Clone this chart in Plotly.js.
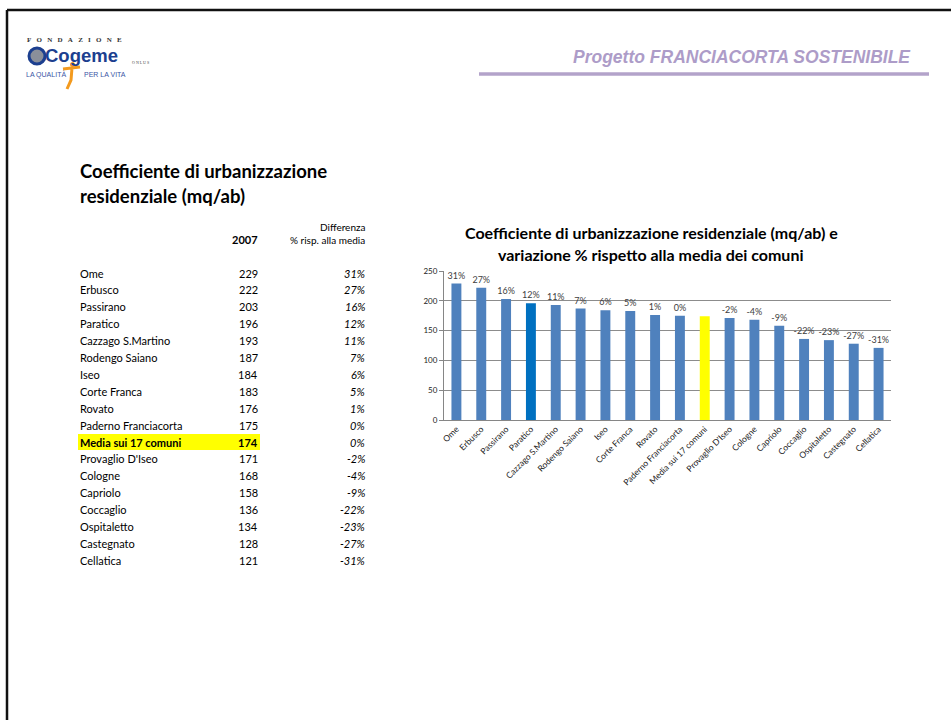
<!DOCTYPE html>
<html>
<head>
<meta charset="utf-8">
<script src="https://cdn.plot.ly/plotly-3.0.1.min.js"></script>
<style>html,body{margin:0;padding:0;background:#fff;}#chart{width:951px;height:720px;}</style>
</head>
<body>
<div id="chart"></div>
<script>
// ---- data ----
const comuni = ["Ome","Erbusco","Passirano","Paratico","Cazzago S.Martino","Rodengo Saiano","Iseo","Corte Franca","Rovato","Paderno Franciacorta","Media sui 17 comuni","Provaglio D'Iseo","Cologne","Capriolo","Coccaglio","Ospitaletto","Castegnato","Cellatica"];
const valori2007 = [229,222,203,196,193,187,184,183,176,175,174,171,168,158,136,134,128,121];
const differenza = [31,27,16,12,11,7,6,5,1,0,0,-2,-4,-9,-22,-23,-27,-31];
const mediaLabel = "Media sui 17 comuni";
const evidenziato = "Paratico";
const yTicks = [0,50,100,150,200,250];

// ---- helpers (pixel -> paper) ----
const W = 951, H = 720;
const px = x => x / W;
const py = y => 1 - y / H;

const barColors = comuni.map(c => c === mediaLabel ? "#ffff00" : (c === evidenziato ? "#0070c0" : "#4f81bd"));
const barText = comuni.map((c, i) => c === mediaLabel ? "" : differenza[i] + "%");

const trace = {
  type: "bar",
  x: comuni,
  y: valori2007,
  marker: {color: barColors, line: {width: 0}},
  text: barText,
  textposition: "outside",
  constraintext: "none",
  cliponaxis: false,
  textfont: {family: "Lato, sans-serif", size: 9, color: "#404040"},
  hoverinfo: "x+y"
};

const annotations = [];
const shapes = [];
const nb = "\u00a0";

// slide border
shapes.push({type: "line", xref: "paper", yref: "paper", x0: px(7), x1: 1.01, y0: py(10), y1: py(10), line: {color: "#111", width: 2.5}});
shapes.push({type: "line", xref: "paper", yref: "paper", x0: px(7), x1: px(7), y0: py(10), y1: -0.01, line: {color: "#111", width: 2.5}});

// header
annotations.push({xref: "paper", yref: "paper", x: px(913), y: py(57), xanchor: "right", yanchor: "middle", showarrow: false,
  text: "<b><i>Progetto FRANCIACORTA SOSTENIBILE</i></b>", font: {family: "Liberation Sans, Arial, sans-serif", size: 17.5, color: "#ad9cc8"}});
shapes.push({type: "line", xref: "paper", yref: "paper", x0: px(479), x1: px(929), y0: py(74), y1: py(74), line: {color: "#b3a3ca", width: 3.5}});

// logo
annotations.push({xref: "paper", yref: "paper", x: px(25), y: py(40), xanchor: "left", yanchor: "middle", showarrow: false,
  text: "<b>" + "FONDAZIONE".split("").join(nb + nb + nb) + "</b>", font: {family: "Liberation Serif, serif", size: 7, color: "#333"}});
shapes.push({type: "circle", xref: "paper", yref: "paper", x0: px(29), x1: px(45), y0: py(64), y1: py(48), fillcolor: "#8a8f9a", line: {color: "#1c3f8f", width: 3}});
annotations.push({xref: "paper", yref: "paper", x: px(43), y: py(56), xanchor: "left", yanchor: "middle", showarrow: false,
  text: "<b>Cogeme</b>", font: {family: "Liberation Sans, Arial, sans-serif", size: 18.5, color: "#1c3f8f"}});
annotations.push({xref: "paper", yref: "paper", x: px(130), y: py(62), xanchor: "left", yanchor: "middle", showarrow: false,
  text: "O N L U S", font: {family: "Liberation Serif, serif", size: 4, color: "#444"}});
annotations.push({xref: "paper", yref: "paper", x: px(24), y: py(75), xanchor: "left", yanchor: "middle", showarrow: false,
  text: "LA QUALITÀ", font: {family: "Liberation Sans Narrow, Liberation Sans, sans-serif", size: 7, color: "#3a55a5"}});
annotations.push({xref: "paper", yref: "paper", x: px(82), y: py(75), xanchor: "left", yanchor: "middle", showarrow: false,
  text: "PER LA VITA", font: {family: "Liberation Sans Narrow, Liberation Sans, sans-serif", size: 7, color: "#3a55a5"}});
// orange figure
shapes.push({type: "path", xref: "paper", yref: "paper",
  path: `M ${px(63)} ${py(69)} L ${px(80)} ${py(67)} M ${px(72)} ${py(68)} L ${px(71)} ${py(80)} L ${px(67)} ${py(89)}`,
  line: {color: "#f39a1e", width: 3}});
shapes.push({type: "circle", xref: "paper", yref: "paper", x0: px(70), x1: px(75), y0: py(67), y1: py(62), fillcolor: "#f39a1e", line: {width: 0}});

// left title
annotations.push({xref: "paper", yref: "paper", x: px(78), y: py(171), xanchor: "left", yanchor: "middle", showarrow: false,
  text: "<b>Coefficiente di urbanizzazione</b>", font: {family: "Lato, sans-serif", size: 18.5, color: "#000"}});
annotations.push({xref: "paper", yref: "paper", x: px(78), y: py(196), xanchor: "left", yanchor: "middle", showarrow: false,
  text: "<b>residenziale (mq/ab)</b>", font: {family: "Lato, sans-serif", size: 18.5, color: "#000"}});

// table header
const tf = {family: "Lato, sans-serif", size: 11, color: "#000"};
annotations.push({xref: "paper", yref: "paper", x: px(260), y: py(240), xanchor: "right", yanchor: "middle", showarrow: false, text: "<b>2007</b>", font: tf});
annotations.push({xref: "paper", yref: "paper", x: px(367), y: py(227), xanchor: "right", yanchor: "middle", showarrow: false, text: "Differenza", font: Object.assign({}, tf, {size: 10})});
annotations.push({xref: "paper", yref: "paper", x: px(367), y: py(240), xanchor: "right", yanchor: "middle", showarrow: false, text: "% risp. alla media", font: Object.assign({}, tf, {size: 10})});

// table rows
const row0 = 273, rowStep = 16.9;
comuni.forEach((c, i) => {
  const y = py(row0 + i * rowStep);
  const isMedia = c === mediaLabel;
  if (isMedia) {
    shapes.push({type: "rect", xref: "paper", yref: "paper", x0: px(78), x1: px(260), y0: py(row0 + i * rowStep - 8), y1: py(row0 + i * rowStep + 8), fillcolor: "#ffff00", line: {width: 0}, layer: "below"});
  }
  annotations.push({xref: "paper", yref: "paper", x: px(78), y: y, xanchor: "left", yanchor: "middle", showarrow: false,
    text: isMedia ? "<b>" + c + "</b>" : c, font: tf});
  annotations.push({xref: "paper", yref: "paper", x: px(260), y: y, xanchor: "right", yanchor: "middle", showarrow: false,
    text: isMedia ? "<b>" + valori2007[i] + "</b>" : String(valori2007[i]), font: tf});
  annotations.push({xref: "paper", yref: "paper", x: px(367), y: y, xanchor: "right", yanchor: "middle", showarrow: false,
    text: "<i>" + differenza[i] + "%</i>", font: tf});
});

// chart title
annotations.push({xref: "paper", yref: "paper", x: px(651), y: py(233), xanchor: "center", yanchor: "middle", showarrow: false,
  text: "<b>Coefficiente di urbanizzazione residenziale (mq/ab) e</b>", font: {family: "Lato, sans-serif", size: 16, color: "#000"}});
annotations.push({xref: "paper", yref: "paper", x: px(650), y: py(254), xanchor: "center", yanchor: "middle", showarrow: false,
  text: "<b>variazione % rispetto alla media dei comuni</b>", font: {family: "Lato, sans-serif", size: 16, color: "#000"}});

const layout = {
  width: W, height: H,
  margin: {l: 0, r: 0, t: 0, b: 0},
  paper_bgcolor: "#fff", plot_bgcolor: "#fff",
  showlegend: false,
  bargap: 0.6,
  xaxis: {
    domain: [px(444), px(891)],
    anchor: "y",
    tickangle: -45,
    tickfont: {family: "Lato, sans-serif", size: 8.5, color: "#222"},
    showline: true, linecolor: "#868686", linewidth: 1,
    ticks: "", showgrid: false, fixedrange: true,
    automargin: false
  },
  yaxis: {
    domain: [py(420), py(271)],
    range: [0, 250],
    tickvals: yTicks,
    tickfont: {family: "Lato, sans-serif", size: 8, color: "#222"},
    showline: true, linecolor: "#868686", linewidth: 1,
    ticks: "outside", ticklen: 4, tickcolor: "#868686",
    showgrid: true, gridcolor: "#8c8c8c", gridwidth: 1,
    zeroline: false, fixedrange: true, automargin: false
  },
  annotations: annotations,
  shapes: shapes
};

Plotly.newPlot("chart", [trace], layout, {displayModeBar: false, staticPlot: true});
</script>
</body>
</html>
